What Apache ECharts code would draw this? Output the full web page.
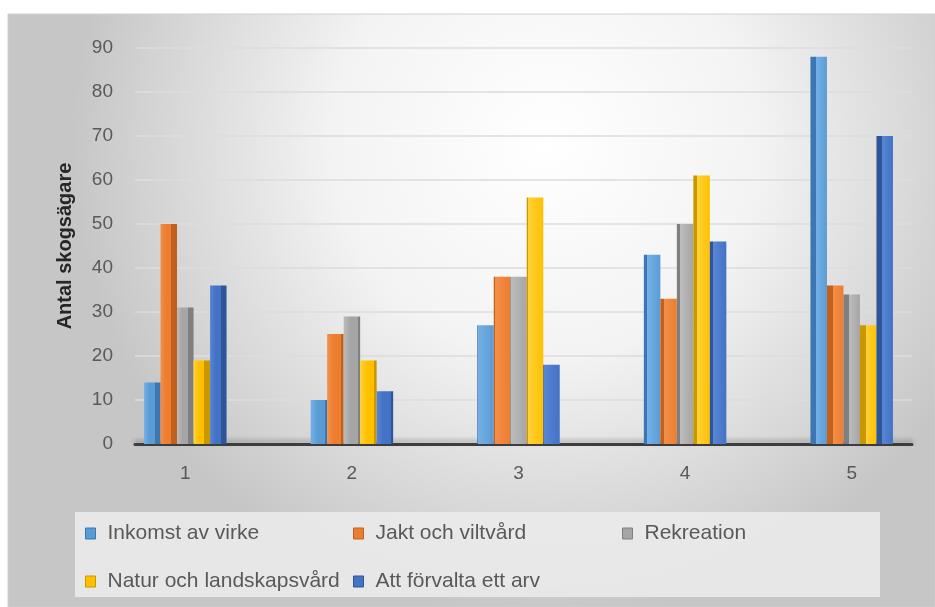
<!DOCTYPE html>
<html>
<head>
<meta charset="utf-8">
<script src="https://cdn.jsdelivr.net/npm/echarts@6/dist/echarts.min.js"></script>
<style>html,body{margin:0;padding:0;background:#fff}#c{width:935px;height:607px}</style>
</head>
<body>
<div id="c"></div>
<script>
const categories = ['1', '2', '3', '4', '5'];
const seriesNames = ['Inkomst av virke', 'Jakt och viltvård', 'Rekreation', 'Natur och landskapsvård', 'Att förvalta ett arv'];
const inkomst = [14, 10, 27, 43, 88];
const jakt = [50, 25, 38, 33, 36];
const rekreation = [31, 29, 38, 50, 34];
const natur = [19, 19, 56, 61, 27];
const arv = [36, 12, 18, 46, 70];
const yTicks = { min: 0, max: 90, interval: 10 };
const yTitle = 'Antal skogsägare';

const values = [inkomst, jakt, rekreation, natur, arv];
const palette = [
  { base: '#5B9BD5', light: '#73b0e6', dark: '#3b78b3' },
  { base: '#ED7D31', light: '#f38f48', dark: '#c2611d' },
  { base: '#A5A5A5', light: '#bcbcbc', dark: '#7f7f7f' },
  { base: '#FFC000', light: '#ffd23a', dark: '#c99700' },
  { base: '#4472C4', light: '#5886d6', dark: '#2d5597' }
];
// side (3D depth) visible fraction per category: + right, - left
const sideFrac = [0.35, 0.15, -0.05, -0.22, -0.35];

function barStyle(p, ci) {
  const f = sideFrac[ci];
  let stops;
  if (f >= 0) {
    const e = 1 - f;
    stops = [{offset: 0, color: p.light}, {offset: e * 0.5, color: p.base}, {offset: e, color: p.base}, {offset: Math.min(e + 0.001, 1), color: p.dark}, {offset: 1, color: p.dark}];
  } else {
    const s = -f;
    stops = [{offset: 0, color: p.dark}, {offset: s, color: p.dark}, {offset: s + 0.001, color: p.light}, {offset: 1, color: p.base}];
  }
  return { color: new echarts.graphic.LinearGradient(0, 0, 1, 0, stops) };
}

const font = 'Liberation Sans, Arial, sans-serif';
const series = seriesNames.map((name, si) => ({
  name: name,
  type: 'bar',
  xAxisIndex: 0,
  yAxisIndex: 0,
  barWidth: 16.5,
  barGap: '0%',
  itemStyle: { color: palette[si].base },
  data: values[si].map((v, ci) => ({ value: v, itemStyle: barStyle(palette[si], ci) }))
}));

function legendData(idx) {
  return idx.map(i => ({ name: seriesNames[i], itemStyle: { color: palette[i].base, borderColor: palette[i].dark, borderWidth: 1 } }));
}
const legendCommon = {
  orient: 'vertical', top: 523, padding: 0, itemGap: 27, itemWidth: 10, itemHeight: 11,
  icon: 'rect', selectedMode: false,
  textStyle: { fontFamily: font, fontSize: 21, color: '#595959', lineHeight: 20, padding: [0, 0, 0, 7] }
};

const chart = echarts.init(document.getElementById('c'), null, { renderer: 'canvas' });
chart.setOption({
  animation: false,
  backgroundColor: '#ffffff',
  graphic: [
    { type: 'rect', z: -100, silent: true, shape: { x: 8, y: 14, width: 927, height: 593 },
      style: { fill: new echarts.graphic.RadialGradient(0.58, 0.22, 0.8, [{offset: 0, color: '#ffffff'}, {offset: 0.45, color: '#f3f3f3'}, {offset: 1, color: '#c6c6c6'}]), stroke: '#d0d0d0', lineWidth: 1 } },
    { type: 'rect', z: -90, silent: true, shape: { x: 75, y: 512, width: 805, height: 85 },
      style: { fill: 'rgba(236,236,236,0.85)' } }
  ],
  grid: [
    { left: 102, right: -7, top: 48, bottom: 163 },
    { left: 135, right: 23, top: 48, bottom: 163 }
  ],
  xAxis: [
    { type: 'category', gridIndex: 0, data: categories,
      axisLine: { show: false }, axisTick: { show: false },
      axisLabel: { margin: 20, fontFamily: font, fontSize: 19, color: '#595959' } },
    { type: 'category', gridIndex: 1, data: categories,
      axisLine: { show: true, lineStyle: { color: '#3d3d3d', width: 3, shadowColor: 'rgba(0,0,0,0.25)', shadowBlur: 4, shadowOffsetY: -3 } },
      axisTick: { show: false }, axisLabel: { show: false } }
  ],
  yAxis: [
    { type: 'value', gridIndex: 0, min: yTicks.min, max: yTicks.max, interval: yTicks.interval,
      axisLine: { show: false }, axisTick: { show: false }, axisLabel: { show: false }, splitLine: { show: false } },
    { type: 'value', gridIndex: 1, min: yTicks.min, max: yTicks.max, interval: yTicks.interval,
      name: yTitle, nameLocation: 'middle', nameGap: 60, nameRotate: 90,
      nameTextStyle: { fontFamily: 'Liberation Sans Narrow, Liberation Sans, sans-serif', fontWeight: 'bold', fontSize: 20, color: '#262626' },
      axisLine: { show: false }, axisTick: { show: false },
      axisLabel: { margin: 22, fontFamily: font, fontSize: 19, color: '#595959' },
      splitLine: { show: true, lineStyle: { color: '#dcdcdc', width: 1.5 } } }
  ],
  legend: [
    Object.assign({ left: 85, data: legendData([0, 3]) }, legendCommon),
    Object.assign({ left: 353, data: legendData([1, 4]) }, legendCommon),
    Object.assign({ left: 622, data: legendData([2]) }, legendCommon)
  ],
  series: series
});
</script>
</body>
</html>
